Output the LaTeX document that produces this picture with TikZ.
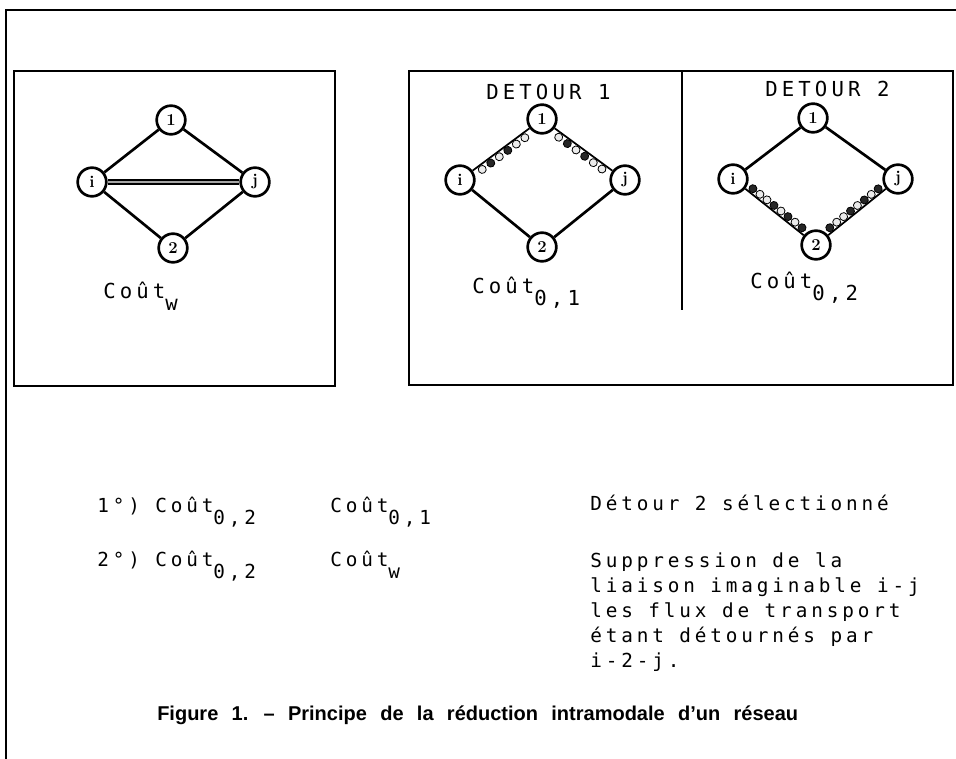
\documentclass[tikz,border=0pt]{standalone}
\usepackage{fontspec}
\usetikzlibrary{decorations.markings}
\newfontfamily\tw{DejaVu Sans Mono}[LetterSpace=20]
\newfontfamily\capf{Liberation Sans}
\newcommand\sub[1]{\raisebox{-9pt}{#1}}
\newcommand\lpw[1]{\draw[line width=0.6pt,fill=black!8] (0pt,#1) circle (3pt);}
\newcommand\lpb[1]{\draw[line width=0.6pt,fill=black!85] (0pt,#1) circle (3pt);}
\begin{document}
\begin{tikzpicture}[x=0.75pt,y=-0.75pt,
  frame/.style={line width=1pt},
  boxline/.style={line width=1.6pt},
  circ/.style={circle,draw,line width=2pt,fill=white,minimum size=21.5pt,inner sep=0pt,
     font=\bfseries\fontsize{12.5}{13}\selectfont},
  edge/.style={line width=2pt},
  tt/.style={anchor=base west,inner sep=0pt,font=\tw\fontsize{14.5}{16}\selectfont},
  ttb/.style={anchor=base west,inner sep=0pt,font=\tw\fontsize{15.5}{17}\selectfont},
  dbl/.style={line width=0.9pt,double=black!35,double distance=2pt},
  loopsA/.style={postaction={decorate,decoration={markings,
     mark=at position 0.12 with {\lpw{-3.6pt}},
     mark=at position 0.27 with {\lpb{-3.6pt}},
     mark=at position 0.42 with {\lpw{-3.6pt}},
     mark=at position 0.57 with {\lpb{-3.6pt}},
     mark=at position 0.72 with {\lpw{-3.6pt}},
     mark=at position 0.87 with {\lpw{-3.6pt}}}}},
  loopsB/.style={postaction={decorate,decoration={markings,
     mark=at position 0.08 with {\lpb{3.6pt}},
     mark=at position 0.2 with {\lpw{3.6pt}},
     mark=at position 0.32 with {\lpw{3.6pt}},
     mark=at position 0.44 with {\lpb{3.6pt}},
     mark=at position 0.56 with {\lpw{3.6pt}},
     mark=at position 0.68 with {\lpb{3.6pt}},
     mark=at position 0.8 with {\lpw{3.6pt}},
     mark=at position 0.92 with {\lpb{3.6pt}}}}}
]
\useasboundingbox (0,0) rectangle (956,759);
\fill[white] (0,0) rectangle (956,759);
% frames
\draw[frame] (6,759) -- (6,10) -- (956,10);
\draw[boxline] (14,71) rectangle (335,386);
\draw[boxline] (409,71) rectangle (953,385);
\draw[boxline] (682,71) -- (682,310);
% left graph
\node[circ] (a1) at (171,120) {1};
\node[circ] (ai) at (92,182) {i};
\node[circ] (aj) at (255,182) {j};
\node[circ] (a2) at (173,248) {2};
\draw[edge] (ai) -- (a1);
\draw[edge] (a1) -- (aj);
\draw[edge] (ai) -- (a2);
\draw[edge] (a2) -- (aj);
\draw[dbl] (ai) -- (aj);
\node[ttb] (cw) at (103,298) {Coût\sub{w}};
% detour 1
\node[ttb] (d1) at (486,100) {DETOUR 1};
\node[circ] (b1) at (542,119) {1};
\node[circ] (bi) at (460,180) {i};
\node[circ] (bj) at (625,180) {j};
\node[circ] (b2) at (542,247) {2};
\draw[edge,line width=1.3pt,loopsA] (bi) -- (b1);
\draw[edge,line width=1.3pt,loopsA] (b1) -- (bj);
\draw[edge] (bi) -- (b2);
\draw[edge] (b2) -- (bj);
\node[ttb] (c01) at (472,293) {Coût\sub{0,1}};
% detour 2
\node[ttb] (d2) at (765,97) {DETOUR 2};
\node[circ] (e1) at (813,118) {1};
\node[circ] (ei) at (733,179) {i};
\node[circ] (ej) at (898,179) {j};
\node[circ] (e2) at (816,245) {2};
\draw[edge] (ei) -- (e1);
\draw[edge] (e1) -- (ej);
\draw[edge,line width=1.3pt,loopsB] (ei) -- (e2);
\draw[edge,line width=1.3pt,loopsB] (e2) -- (ej);
\node[ttb] (c02) at (750,288) {Coût\sub{0,2}};
% bottom rows
\node[tt] (r1n) at (97,512) {1°)};
\node[tt] (r1a) at (155,512) {Coût\sub{0,2}};
\node[tt] (r1b) at (330,512) {Coût\sub{0,1}};
\node[tt] (r1c) at (590,510) {Détour 2 sélectionné};
\node[tt] (r2n) at (97,566) {2°)};
\node[tt] (r2a) at (155,566) {Coût\sub{0,2}};
\node[tt] (r2b) at (330,566) {Coût\sub{w}};
\node[tt] (t1) at (590,567) {Suppression de la};
\node[tt] (t2) at (590,592) {liaison imaginable i-j};
\node[tt] (t3) at (590,617) {les flux de transport};
\node[tt] (t4) at (590,642) {étant détournés par};
\node[tt] (t5) at (590,667) {i-2-j.};
\node[anchor=base west,inner sep=0pt,font=\capf\bfseries\fontsize{15}{17}\selectfont]
  (cap) at (157,720) {\spaceskip=10pt Figure 1. – Principe de la réduction intramodale d’un réseau};
\end{tikzpicture}
\end{document}
